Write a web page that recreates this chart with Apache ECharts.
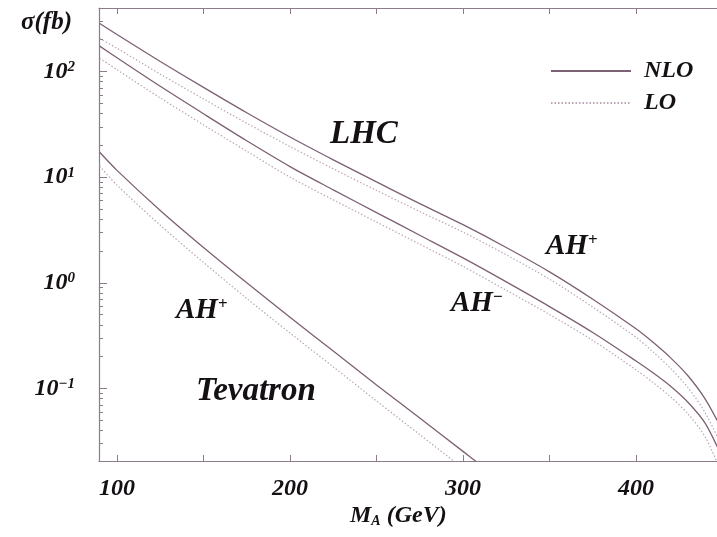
<!DOCTYPE html>
<html>
<head>
<meta charset="utf-8">
<script src="https://cdn.jsdelivr.net/npm/echarts@6/dist/echarts.min.js"></script>
<style>
  html, body { margin: 0; padding: 0; background: #fff; }
  #chart { width: 717px; height: 537px; }
</style>
</head>
<body>
<div id="chart"></div>
<script>
// Pseudoscalar mass M_A (GeV) sampling for the LHC curves
const massLHC = [90, 100, 125, 150, 175, 200, 225, 250, 275, 300, 325, 350, 375, 400, 410, 420, 430, 440, 450];
// LHC, A H+ production (fb)
const lhcPlusNLO  = [285, 224, 124.5, 70.8, 40.7, 24.0, 14.6, 9.02, 5.62, 3.55, 2.16, 1.27, 0.70, 0.367, 0.272, 0.195, 0.132, 0.0794, 0.0398];
const lhcPlusLO   = [205.6, 166, 94.4, 55.0, 32.4, 19.5, 12.0, 7.50, 4.73, 3.02, 1.84, 1.084, 0.589, 0.305, 0.221, 0.155, 0.102, 0.0589, 0.0275];
// LHC, A H- production (fb)
const lhcMinusNLO = [173.8, 134.9, 72.4, 39.8, 22.1, 12.6, 7.59, 4.62, 2.82, 1.72, 1.02, 0.596, 0.339, 0.182, 0.140, 0.105, 0.0741, 0.0468, 0.0219];
const lhcMinusLO  = [133.4, 104.0, 56.2, 31.3, 17.6, 10.0, 6.10, 3.76, 2.32, 1.43, 0.851, 0.501, 0.285, 0.150, 0.1135, 0.0832, 0.0575, 0.0347, 0.0151];

// Tevatron, A H+ production (fb)
const massTev = [90, 100, 125, 150, 175, 200, 225, 250, 275, 300, 310];
const tevNLO  = [17.2, 11.6, 4.84, 2.16, 1.0, 0.473, 0.226, 0.108, 0.0525, 0.0254, 0.0190];
const tevLO   = [12.7, 8.41, 3.51, 1.56, 0.711, 0.335, 0.160, 0.0762, 0.0366, 0.0176, 0.0132];

// Axis marks
const xTickValues  = [100, 150, 200, 250, 300, 350, 400];
const xLabelValues = [100, 200, 300, 400];
const yMajorValues = [0.1, 1, 10, 100];
const yMinorValues = [0.03, 0.04, 0.05, 0.06, 0.07, 0.08, 0.09,
                      0.2, 0.3, 0.4, 0.5, 0.6, 0.7, 0.8, 0.9,
                      2, 3, 4, 5, 6, 7, 8, 9,
                      20, 30, 40, 50, 60, 70, 80, 90,
                      200, 300];

const X_MIN = 89.6, X_MAX = 446.8;
const Y_MIN = 0.0206, Y_MAX = 399;

const FONT = '"Liberation Serif", "DejaVu Serif", serif';
const INK = '#141014';
const AXIS = '#8e7b8a';
const SOLID = '#7c6074';
const DOTTED = '#bba6b6';

const zip = (xs, ys) => xs.map((x, i) => [x, ys[i]]);

function lineSeries(name, xs, ys, solid) {
  return {
    name: name,
    type: 'line',
    data: zip(xs, ys),
    xAxisIndex: 0,
    yAxisIndex: 0,
    symbol: 'none',
    smooth: 0.3,
    clip: true,
    z: solid ? 3 : 2,
    lineStyle: solid
      ? { color: SOLID, width: 1.3, type: 'solid' }
      : { color: DOTTED, width: 1.2, type: [1.5, 2] },
    itemStyle: { color: solid ? SOLID : DOTTED },
    emphasis: { disabled: true }
  };
}

const textBase = { fontFamily: FONT, fontStyle: 'italic', fontWeight: 'bold', color: INK };
const richLabel = (size) => ({
  m: { font: 'italic bold ' + size + 'px ' + FONT, fill: INK },
  s: { font: 'bold 17px ' + FONT, fill: INK, verticalAlign: 'top' }
});

const chart = echarts.init(document.getElementById('chart'), null, { renderer: 'canvas' });

chart.setOption({
  animation: false,
  backgroundColor: '#fff',
  grid: { left: 99, top: 8, right: 0, bottom: 76, containLabel: false },
  legend: {
    data: ['NLO', 'LO'],
    orient: 'vertical',
    left: 550,
    top: 59,
    padding: 0,
    itemWidth: 80,
    itemHeight: 12,
    itemGap: 8,
    selectedMode: false,
    itemStyle: { opacity: 0 },
    textStyle: Object.assign({}, textBase, { fontSize: 24, padding: [0, 0, 0, 8] })
  },
  xAxis: [
    {
      type: 'value', position: 'bottom', min: X_MIN, max: X_MAX,
      axisLine: { show: true, lineStyle: { color: AXIS, width: 1.2 } },
      axisTick: { show: true, inside: true, length: 6, customValues: xTickValues, lineStyle: { color: AXIS } },
      axisLabel: Object.assign({}, textBase, { fontSize: 24, margin: 16, customValues: xLabelValues }),
      splitLine: { show: false }
    },
    {
      type: 'value', position: 'top', min: X_MIN, max: X_MAX,
      axisLine: { show: true, lineStyle: { color: AXIS, width: 1.2 } },
      axisTick: { show: true, inside: true, length: 6, customValues: xTickValues, lineStyle: { color: AXIS } },
      axisLabel: { show: false },
      splitLine: { show: false }
    }
  ],
  yAxis: [
    {
      type: 'log', logBase: 10, position: 'left', min: Y_MIN, max: Y_MAX,
      axisLine: { show: true, lineStyle: { color: AXIS, width: 1.2 } },
      axisTick: { show: true, inside: true, length: 8, customValues: yMajorValues, lineStyle: { color: AXIS } },
      axisLabel: {
        customValues: yMajorValues,
        margin: 24,
        formatter: function (v) {
          const e = Math.round(Math.log10(v));
          const s = e < 0 ? '\u2212' + Math.abs(e) : String(e);
          return '{b|10}{s|' + s + '}';
        },
        rich: {
          b: Object.assign({}, textBase, { fontSize: 24 }),
          s: Object.assign({}, textBase, { fontSize: 15, verticalAlign: 'top', lineHeight: 14 })
        }
      },
      splitLine: { show: false }
    },
    {
      type: 'log', logBase: 10, position: 'left', min: Y_MIN, max: Y_MAX,
      axisLine: { show: false },
      axisTick: { show: true, inside: true, length: 4, customValues: yMinorValues, lineStyle: { color: AXIS } },
      axisLabel: { show: false },
      splitLine: { show: false }
    }
  ],
  series: [
    lineSeries('LO', massLHC, lhcPlusLO, false),
    lineSeries('LO', massLHC, lhcMinusLO, false),
    lineSeries('LO', massTev, tevLO, false),
    lineSeries('NLO', massLHC, lhcPlusNLO, true),
    lineSeries('NLO', massLHC, lhcMinusNLO, true),
    lineSeries('NLO', massTev, tevNLO, true)
  ],
  graphic: [
    { type: 'text', left: 21, top: 10,
      style: { text: '\u03c3(fb)', font: 'italic bold 25px ' + FONT, fill: INK } },
    { type: 'text', left: 330, top: 118,
      style: { text: 'LHC', font: 'italic bold 33px ' + FONT, fill: INK } },
    { type: 'text', left: 196, top: 375,
      style: { text: 'Tevatron', font: 'italic bold 33px ' + FONT, fill: INK } },
    { type: 'text', left: 546, top: 232,
      style: { text: '{m|AH}{s|+}', rich: richLabel(29) } },
    { type: 'text', left: 451, top: 289,
      style: { text: '{m|AH}{s|\u2212}', rich: richLabel(29) } },
    { type: 'text', left: 176, top: 296,
      style: { text: '{m|AH}{s|+}', rich: richLabel(29) } },
    { type: 'text', left: 350, top: 504,
      style: { text: '{m|M}{a|A}{m| (GeV)}', rich: {
        m: { font: 'italic bold 24px ' + FONT, fill: INK },
        a: { font: 'italic bold 14px ' + FONT, fill: INK, verticalAlign: 'bottom' } } } }
  ]
});
</script>
</body>
</html>
